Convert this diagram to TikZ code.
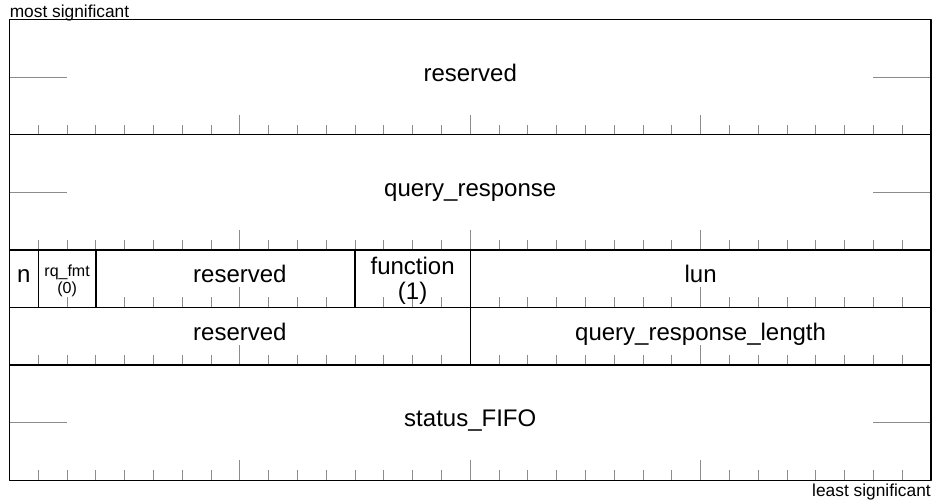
\documentclass[tikz,border=0pt]{standalone}
\usepackage{fontspec}
\setmainfont{Liberation Sans}
\begin{document}
\begin{tikzpicture}[x=21.6pt, y=43.2pt, line join=round,
	lbl/.style={font=\fontsize{18}{18}\selectfont, inner sep=0pt, anchor=base},
	lblsmall/.style={font=\fontsize{12}{12}\selectfont, inner sep=0pt, anchor=base},
	sig/.style={font=\fontsize{13}{13}\selectfont, inner sep=0pt},
	bittick/.style={black!45, line width=0.6pt},
	rule/.style={line width=1.1pt}]
	\def\sh{0.1736} \def\lh{0.3472} % short and long tick
	\def\dy{0.075} % baseline below row centre
	\useasboundingbox (-0.33,-0.3767) rectangle (32.139,8.3385);
	% bit ticks at the bottom of every row
	\foreach \r in {0,2,3,4,6}{
		\foreach \k in {1,...,31}{
			\pgfmathsetmacro\len{mod(\k,8)==0 ? \lh : \sh}
			\draw[bittick] (\k,\r)--(\k,\r+\len);
		}
	}
	% 64-bit fields: half-way marks
	\foreach \r in {1,5,7}
		\draw[bittick] (0,\r)--(2,\r) (30,\r)--(32,\r);
	% frame and borders
	\draw[rule] (0,0) rectangle (32,8);
	\draw[rule] (0,6)--(32,6) (0,4)--(32,4) (0,3)--(32,3) (0,2)--(32,2);
	\draw[rule] (1,3)--(1,4) (3,3)--(3,4) (12,3)--(12,4) (16,2)--(16,4);
	% field names
	\node[lbl] (res0) at (16,7-\dy) {reserved};
	\node[lbl] (qresp) at (16,5-\dy) {query\_response};
	\node[lbl] (nbit) at (0.5,3.5-\dy) {n};
	\node[lblsmall] (rqfmt) at (2,3.530) {rq\_fmt};
	\node[lblsmall] (rqval) at (2,3.241) {(0)};
	\node[lbl] (res1) at (8,3.5-\dy) {reserved};
	\node[lbl] (func) at (14,3.564) {function};
	\node[lbl] (funcval) at (14,3.130) {(1)};
	\node[lbl] (lun) at (24,3.5-\dy) {lun};
	\node[lbl] (res2) at (8,2.5-\dy) {reserved};
	\node[lbl] (qrlen) at (24,2.5-\dy) {query\_response\_length};
	\node[lbl] (fifo) at (16,1-\dy) {status\_FIFO};
	\node[sig, anchor=base west] (msb) at (0,8.043) {most significant};
	\node[sig, anchor=base east] (lsb) at (32,-0.290) {least significant};
\end{tikzpicture}
\end{document}
